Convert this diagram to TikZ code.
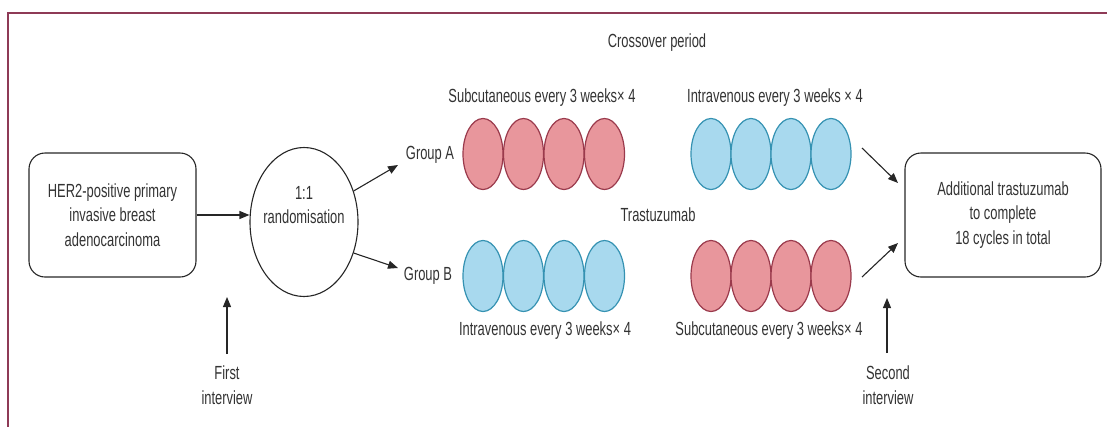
\documentclass[tikz,border=0pt]{standalone}
\usepackage{fontspec}
\setmainfont{Liberation Sans}[FakeStretch=0.68]
\usetikzlibrary{arrows.meta,shapes.geometric}
\definecolor{framec}{HTML}{8E3A56}
\definecolor{redfill}{HTML}{E8969C}
\definecolor{reddraw}{HTML}{9A3A4C}
\definecolor{bluefill}{HTML}{A8D9EE}
\definecolor{bluedraw}{HTML}{3592B2}
\definecolor{txt}{HTML}{333333}
\begin{document}
\begin{tikzpicture}[x=1pt,y=-1pt,
  every node/.style={font=\fontsize{19}{24.5}\selectfont, text=txt},
  rbox/.style={draw=black!85, line width=1.1pt, rounded corners=16pt, align=center},
  pillr/.style={ellipse, draw=reddraw, fill=redfill, line width=1.2pt, minimum width=40pt, minimum height=71pt, inner sep=0pt},
  pillb/.style={ellipse, draw=bluedraw, fill=bluefill, line width=1.2pt, minimum width=40pt, minimum height=71pt, inner sep=0pt},
  arr/.style={draw=black!85, line width=1.1pt, -{Triangle[length=10pt,width=8pt]}},
  lbl/.style={align=center, inner sep=0pt}]
\useasboundingbox (0,0) rectangle (1107,426);
\draw[framec, line width=1.6pt] (8,440) -- (8,13) -- (1120,13);

\node[rbox, minimum width=167pt, minimum height=124pt] (her) at (112.5,215) {HER2-positive primary\\invasive breast\\adenocarcinoma};
\node[ellipse, draw=black!85, line width=1.1pt, minimum width=108pt, minimum height=149pt, inner sep=0pt] (rand) at (304,222) {};
\node[lbl] (randtxt) at (304,205) {1:1\\randomisation};
\draw[arr] (her.east) -- (her.east -| rand.west);

\node[lbl] (ga) at (430,155) {Group A};
\node[lbl] (gb) at (428,276) {Group B};
\coordinate (gaArr) at (398,165);
\coordinate (gbArr) at (398,268);
\draw[arr] (rand.32) -- (gaArr);
\draw[arr] (rand.-32) -- (gbArr);

\foreach \i/\x in {1/483,2/523.5,3/564,4/604.5}{
  \node[pillr] (ar\i) at (\x,154) {};
  \node[pillb] (bb\i) at (\x,276) {};
}
\foreach \i/\x in {1/711,2/751,3/791,4/831}{
  \node[pillb] (ab\i) at (\x,154) {};
  \node[pillr] (br\i) at (\x,276) {};
}

\node[lbl] (cross) at (657,43) {Crossover period};
\node[lbl] (tras) at (658,215) {Trastuzumab};
\node[lbl] (l1) at (542,98) {Subcutaneous every 3 weeks× 4};
\node[lbl] (l2) at (775,98) {Intravenous every 3 weeks × 4};
\node[lbl] (l3) at (545,331) {Intravenous every 3 weeks× 4};
\node[lbl] (l4) at (769,331) {Subcutaneous every 3 weeks× 4};

\node[rbox, minimum width=196pt, minimum height=124pt] (add) at (1003,215) {Additional trastuzumab\\to complete\\18 cycles in total};
\coordinate (t1) at (862,148);
\coordinate (h1) at (898,183);
\coordinate (t2) at (862,277);
\coordinate (h2) at (898,243);
\draw[arr] (t1) -- (h1);
\draw[arr] (t2) -- (h2);

\node[lbl] (fi) at (227,385) {First\\interview};
\coordinate (fiTail) at (227,354);
\coordinate (fiHead) at (227,297);
\draw[arr] (fiTail) -- (fiHead);

\node[lbl] (si) at (888,385) {Second\\interview};
\coordinate (siTail) at (887,353);
\coordinate (siHead) at (887,298);
\draw[arr] (siTail) -- (siHead);
\end{tikzpicture}
\end{document}
